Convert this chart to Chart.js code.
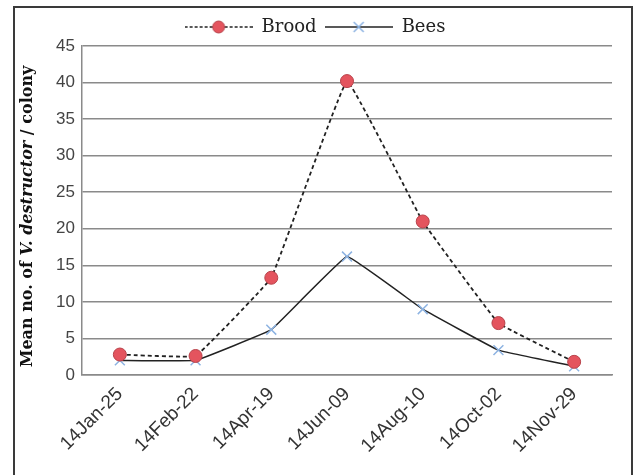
<!DOCTYPE html>
<html>
<head>
<meta charset="utf-8">
<script src="https://cdn.jsdelivr.net/npm/chart.js@4.4.0/dist/chart.umd.min.js"></script>
<style>
  html, body { margin: 0; padding: 0; background: #fff; }
  #wrap { position: relative; width: 635px; height: 475px; }
</style>
</head>
<body>
<div id="wrap"><canvas id="chart" width="635" height="475"></canvas></div>
<script>
// chart data
const categories = ['14Jan-25', '14Feb-22', '14Apr-19', '14Jun-09', '14Aug-10', '14Oct-02', '14Nov-29'];
const broodValues = [2.8, 2.6, 13.3, 40.2, 21.0, 7.1, 1.8];
const beesValues = [2.0, 2.0, 6.2, 16.2, 9.0, 3.4, 1.2];
const yTicks = [0, 5, 10, 15, 20, 25, 30, 35, 40, 45];

const broodFill = '#e4545e';
const broodEdge = '#b8424a';
const beesColor = '#8db3e2';

// small image used as legend key: line sample with the marker in the middle
function legendIcon(dashed, marker) {
    const c = document.createElement('canvas');
    c.width = 68;
    c.height = 16;
    const g = c.getContext('2d');
    g.strokeStyle = '#222';
    g.lineWidth = dashed ? 1.6 : 1.4;
    g.setLineDash(dashed ? [3, 2] : []);
    g.beginPath();
    g.moveTo(0, 8);
    g.lineTo(68, 8);
    g.stroke();
    g.setLineDash([]);
    if (marker === 'circle') {
        g.fillStyle = broodFill;
        g.strokeStyle = broodEdge;
        g.lineWidth = 1;
        g.beginPath();
        g.arc(34, 8, 6, 0, Math.PI * 2);
        g.fill();
        g.stroke();
    } else {
        g.strokeStyle = beesColor;
        g.lineWidth = 1.5;
        g.beginPath();
        g.moveTo(29, 3); g.lineTo(39, 13);
        g.moveTo(39, 3); g.lineTo(29, 13);
        g.stroke();
    }
    return c;
}

const icons = [legendIcon(true, 'circle'), legendIcon(false, 'cross')];

// outer frame of the figure (left, top and right edges)
const framePlugin = {
    id: 'frame',
    afterDraw(chart) {
        const ctx = chart.ctx;
        ctx.save();
        ctx.strokeStyle = '#3a3a3a';
        ctx.lineWidth = 2;
        ctx.beginPath();
        ctx.moveTo(14, 480);
        ctx.lineTo(14, 7);
        ctx.lineTo(632, 7);
        ctx.lineTo(632, 480);
        ctx.stroke();
        ctx.restore();
    }
};

// y axis title with the species name in italics
const yTitlePlugin = {
    id: 'yTitle',
    afterDraw(chart) {
        const ctx = chart.ctx;
        const area = chart.chartArea;
        const parts = [
            { text: 'Mean no. of ', font: 'bold 16px "DejaVu Serif"' },
            { text: 'V. destructor', font: 'italic bold 16px "DejaVu Serif"' },
            { text: ' / colony', font: 'bold 16px "DejaVu Serif"' }
        ];
        let total = 0;
        parts.forEach(p => {
            ctx.font = p.font;
            p.w = ctx.measureText(p.text).width;
            total += p.w;
        });
        ctx.save();
        ctx.translate(28, (area.top + area.bottom) / 2 + 6);
        ctx.rotate(-Math.PI / 2);
        ctx.fillStyle = '#111';
        ctx.textBaseline = 'middle';
        let x = -total / 2;
        parts.forEach(p => {
            ctx.font = p.font;
            ctx.fillText(p.text, x, 0);
            x += p.w;
        });
        ctx.restore();
    }
};

new Chart(document.getElementById('chart'), {
    type: 'line',
    data: {
        labels: categories,
        datasets: [
            {
                label: 'Brood',
                data: broodValues,
                borderColor: '#222',
                borderWidth: 1.8,
                borderDash: [4, 3],
                tension: 0.06,
                pointStyle: 'circle',
                pointRadius: 6.5,
                pointHoverRadius: 6.5,
                pointBackgroundColor: broodFill,
                pointBorderColor: broodEdge,
                pointBorderWidth: 1
            },
            {
                label: 'Bees',
                data: beesValues,
                borderColor: '#222',
                borderWidth: 1.5,
                tension: 0.06,
                pointStyle: 'crossRot',
                pointRadius: 7,
                pointHoverRadius: 7,
                pointBorderColor: beesColor,
                pointBorderWidth: 1.5
            }
        ]
    },
    options: {
        responsive: false,
        animation: false,
        layout: {
            padding: { top: 10, right: 23, bottom: 0, left: 18 }
        },
        plugins: {
            tooltip: { enabled: false },
            legend: {
                display: true,
                position: 'top',
                labels: {
                    usePointStyle: true,
                    pointStyleWidth: 68,
                    padding: 8,
                    color: '#222',
                    font: { family: '"DejaVu Serif"', size: 18 },
                    generateLabels(chart) {
                        const items = Chart.defaults.plugins.legend.labels.generateLabels(chart);
                        items.forEach((it, i) => { it.pointStyle = icons[i]; });
                        return items;
                    }
                }
            }
        },
        scales: {
            x: {
                offset: true,
                grid: { display: false, drawTicks: false, offset: true },
                border: { color: '#8a8a8a', width: 1.5 },
                ticks: {
                    color: '#333',
                    font: { family: '"Liberation Sans"', size: 19 },
                    minRotation: 45,
                    maxRotation: 45,
                    padding: 8
                },
                afterFit(scale) { scale.height = 100; }
            },
            y: {
                min: 0,
                max: 45,
                afterBuildTicks(scale) {
                    scale.ticks = yTicks.map(v => ({ value: v }));
                },
                grid: { color: '#8a8a8a', lineWidth: 1.5, drawTicks: false },
                border: { color: '#8a8a8a', width: 1.5 },
                ticks: {
                    color: '#444',
                    font: { family: '"Liberation Sans"', size: 17 },
                    padding: 7
                },
                afterFit(scale) { scale.width = 64; }
            }
        }
    },
    plugins: [framePlugin, yTitlePlugin]
});
</script>
</body>
</html>
